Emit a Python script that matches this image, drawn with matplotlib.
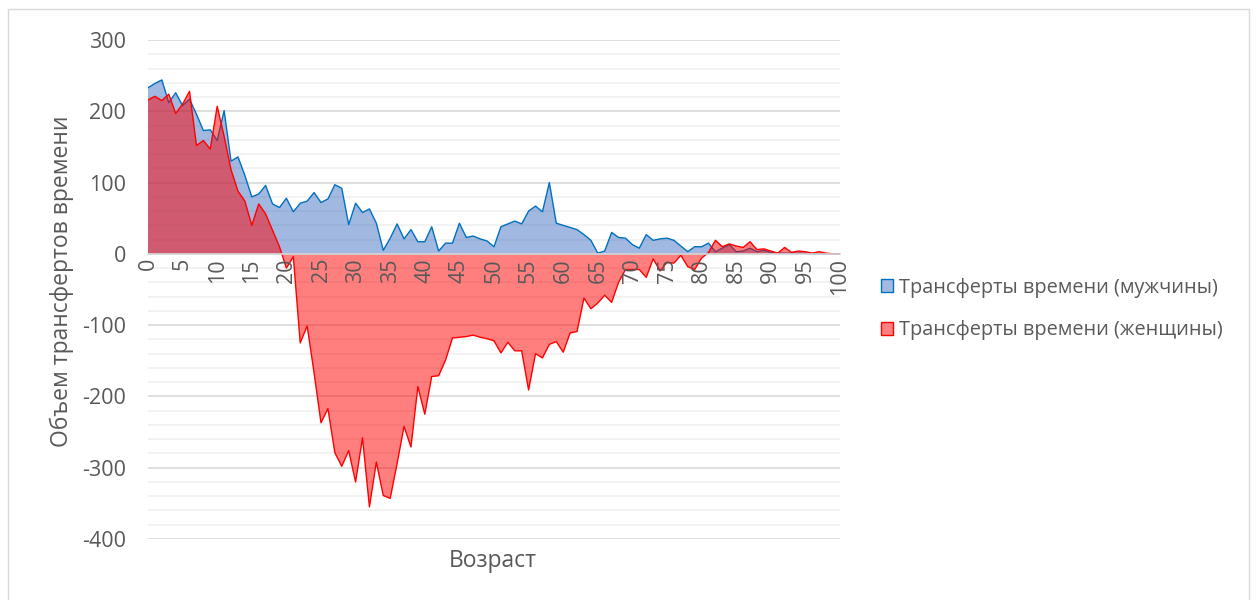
import numpy as np
import matplotlib
matplotlib.use('Agg')
import matplotlib.pyplot as plt
from matplotlib.ticker import MultipleLocator
from matplotlib.patches import Rectangle

plt.rcParams['font.family'] = ['Open Sans', 'DejaVu Sans']
plt.rcParams['axes.unicode_minus'] = False

# Age 0..100
ages = list(range(0, 101))

men = [233, 239, 244, 212, 226, 208, 217, 196, 173, 174,
       159, 201, 130, 136, 110, 80, 84, 96, 70, 65,
       78, 59, 71, 74, 86, 72, 77, 97, 92, 41,
       71, 58, 63, 43, 5, 22, 42, 21, 34, 17,
       17, 38, 4, 15, 15, 43, 23, 25, 21, 18,
       10, 38, 42, 46, 42, 60, 67, 59, 100, 43,
       40, 37, 34, 27, 19, 1, 4, 30, 23, 22,
       13, 8, 27, 19, 21, 22, 19, 11, 3, 10,
       10, 15, 3, 8, 13, 3, 4, 8, 3, 5,
       2, 1, 1, 1, 1, 1, 0, 0, 0, 0, 0]

women = [216, 221, 215, 224, 197, 210, 228, 152, 159, 147,
         207, 165, 118, 88, 74, 40, 70, 56, 33, 10,
         -20, -4, -125, -101, -167, -237, -217, -279, -298, -276,
         -320, -258, -355, -292, -339, -343, -294, -242, -271, -186,
         -225, -172, -171, -149, -118, -117, -116, -114, -117, -119,
         -122, -139, -124, -136, -136, -191, -140, -146, -127, -123,
         -138, -111, -109, -62, -77, -69, -58, -68, -40, -22,
         -22, -22, -33, -7, -24, -12, -13, -2, -18, -22,
         -6, 2, 19, 10, 14, 11, 9, 17, 6, 7,
         4, 1, 9, 2, 4, 3, 1, 3, 1, 0, 0]

men_label = 'Трансферты времени (мужчины)'
women_label = 'Трансферты времени (женщины)'
x_label = 'Возраст'
y_label = 'Объем трансфертов времени'

text_color = '#595959'

fig = plt.figure(figsize=(12.57, 6.0), dpi=100)
ax = fig.add_axes([148 / 1257, 61 / 600, 692 / 1257, 499 / 600])

ax.fill_between(ages, men, 0, facecolor='#4472C4', alpha=0.5, linewidth=0, zorder=2)
ax.plot(ages, men, color='#0070C0', linewidth=1.0, zorder=3)
ax.fill_between(ages, women, 0, facecolor='#FF0000', alpha=0.5, linewidth=0, zorder=4)
ax.plot(ages, women, color='#FF0000', linewidth=1.0, zorder=5)

ax.set_xlim(0, 100)
ax.set_ylim(-400, 300)
ax.yaxis.set_major_locator(MultipleLocator(100))
ax.yaxis.set_minor_locator(MultipleLocator(20))
ax.xaxis.set_major_locator(MultipleLocator(5))
ax.grid(which='major', axis='y', color='#d9d9d9', linewidth=1.2, zorder=0)
ax.grid(which='minor', axis='y', color='#f0f0f0', linewidth=1.2, zorder=0)
ax.set_axisbelow(True)
ax.xaxis.set_zorder(10)

for s in ['top', 'right', 'left']:
    ax.spines[s].set_visible(False)
ax.spines['bottom'].set_position(('data', 0))
ax.spines['bottom'].set_color('#d9d9d9')
ax.spines['bottom'].set_linewidth(1.2)
ax.spines['bottom'].set_zorder(6)

ax.tick_params(axis='both', which='both', length=0, colors=text_color, labelsize=15.5)
ax.tick_params(axis='y', pad=16)
ax.tick_params(axis='x', pad=3)
for lbl in ax.get_xticklabels():
    lbl.set_rotation(90)

fig.text(62 / 1257, 1 - 281 / 600, y_label, fontsize=16.5, color=text_color,
         ha='center', va='center', rotation=90)
fig.text(493 / 1257, 1 - 561 / 600, x_label, fontsize=16.5, color=text_color,
         ha='center', va='center')

# legend
handles = [Rectangle((0, 0), 1, 1, facecolor='#a2b9e2', edgecolor='#0070C0', linewidth=1),
           Rectangle((0, 0), 1, 1, facecolor='#ff8080', edgecolor='#FF0000', linewidth=1)]
leg = fig.legend(handles, [men_label, women_label], loc='center left',
                 bbox_to_anchor=(863 / 1257, 1 - 309 / 600), frameon=False,
                 fontsize=14.3, handlelength=0.6, handleheight=0.6, handletextpad=0.3,
                 labelspacing=1.15)
for t in leg.get_texts():
    t.set_color(text_color)

# outer chart border
fig.patches.append(Rectangle((8 / 1257, -0.02), 1241 / 1257, 1.02 - 9 / 600,
                             transform=fig.transFigure, fill=False,
                             edgecolor='#d9d9d9', linewidth=1))

fig.savefig('out.png', dpi=100)
